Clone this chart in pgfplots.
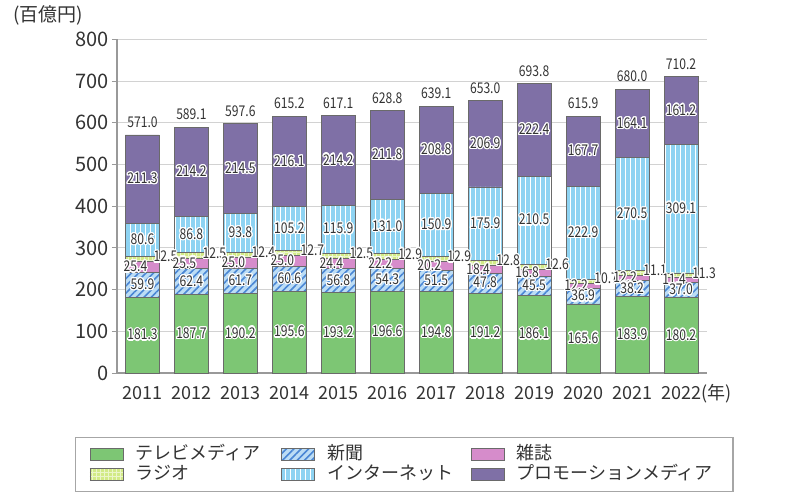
\documentclass[border=0pt]{standalone}
\usepackage{graphicx}
\usepackage{pgfplots}
\pgfplotsset{compat=1.18}
\usepackage{pgfplotstable}
\usepackage{fontspec}
\setmainfont{Noto Sans CJK JP}
\usetikzlibrary{patterns.meta}
\usepackage[copies]{contour}
\contourlength{0.6pt}
\contournumber{16}

\definecolor{tvgreen}{HTML}{7DC674}
\definecolor{newsbg}{HTML}{BCDDF5}
\definecolor{newsline}{HTML}{4A86D4}
\definecolor{magpink}{HTML}{D68CCB}
\definecolor{radioyg}{HTML}{D2EA86}
\definecolor{netblue}{HTML}{8ED3F2}
\definecolor{promo}{HTML}{7F70A6}
\definecolor{edge}{HTML}{6A6A6A}
\definecolor{txt}{HTML}{333333}

\pgfplotstableread{
idx year tv news mag radio net promo total
0 2011 181.3 59.9 25.4 12.5 80.6 211.3 571.0
1 2012 187.7 62.4 25.5 12.5 86.8 214.2 589.1
2 2013 190.2 61.7 25.0 12.4 93.8 214.5 597.6
3 2014 195.6 60.6 25.0 12.7 105.2 216.1 615.2
4 2015 193.2 56.8 24.4 12.5 115.9 214.2 617.1
5 2016 196.6 54.3 22.2 12.9 131.0 211.8 628.8
6 2017 194.8 51.5 20.2 12.9 150.9 208.8 639.1
7 2018 191.2 47.8 18.4 12.8 175.9 206.9 653.0
8 2019 186.1 45.5 16.8 12.6 210.5 222.4 693.8
9 2020 165.6 36.9 12.2 10.7 222.9 167.7 615.9
10 2021 183.9 38.2 12.2 11.1 270.5 164.1 680.0
11 2022 180.2 37.0 11.4 11.3 309.1 161.2 710.2
}\datatable

\newcommand\lbl[1]{\contour{white}{\scalebox{0.82}[1]{#1}}}

\pgfplotsset{
  seglabel/.style={
    point meta=explicit symbolic,
    nodes near coords={\lbl{\pgfplotspointmeta}},
    every node near coord/.append style={anchor=center, inner sep=0pt,
      text=txt, font=\fontsize{7.4}{8}\selectfont},
  },
}

\begin{document}
\begin{tikzpicture}
\begin{axis}[
  at={(0,0)}, anchor=south west, clip=false,
  scale only axis, width=295pt, height=166.8pt,
  ybar stacked, bar width=17pt,
  xmin=-0.52, xmax=11.53, ymin=0, ymax=800,
  xtick={0,...,11},
  xticklabels={2011,2012,2013,2014,2015,2016,2017,2018,2019,2020,2021,2022\rlap{(年)}},
  ytick={0,100,...,800},
  axis x line*=bottom, axis y line*=left,
  axis line style={-, draw=gray!80, line width=0.6pt},
  ymajorgrids, grid style={gray!35, line width=0.5pt},
  xtick style={draw=none},
  ytick style={draw=gray!80, line width=0.5pt},
  major tick length=2.5pt, tick align=outside,
  /pgf/number format/assume math mode=true,
  yticklabel style={font=\fontsize{10}{11}\selectfont, text=txt, inner sep=1.5pt},
  xticklabel style={font=\fontsize{9}{10}\selectfont, text=txt, inner sep=0pt,
    anchor=north, text height=7pt, text depth=1.5pt, yshift=-3.5pt},
  legend image code/.code={\draw[#1] (0pt,-3pt) rectangle (16.5pt,3pt);},
  legend columns=3,
  legend style={at={(-0.0712,-0.192)}, anchor=north west,
    draw=gray!70, line width=0.6pt, inner xsep=7pt, inner ysep=4pt,
    row sep=1pt, column sep=0pt,
    /tikz/every odd column/.style={column sep=6pt},
    nodes={inner sep=0pt, anchor=west, text=txt, font=\fontsize{9}{10}\selectfont,
      text height=7pt, text depth=2pt}},
]
\addplot[fill=tvgreen, draw=edge, line width=0.4pt, seglabel]
  table[x=idx, y=tv, meta=tv]{\datatable};
\addlegendentry{\makebox[73pt][l]{テレビメディア}}
\addplot[fill=newsbg, draw=edge, line width=0.4pt,
  postaction={pattern={Lines[angle=45,distance=2.6pt,line width=0.8pt]}, pattern color=newsline},
  seglabel]
  table[x=idx, y=news, meta=news]{\datatable};
\addlegendentry{\makebox[72pt][l]{新聞}}
\addplot[fill=magpink, draw=edge, line width=0.4pt, seglabel,
  every node near coord/.append style={xshift=-3.5pt}]
  table[x=idx, y=mag, meta=mag]{\datatable};
\addlegendentry{\makebox[101pt][l]{雑誌}}
\addplot[fill=radioyg, draw=edge, line width=0.4pt,
  postaction={pattern={Hatch[distance=2pt,line width=0.3pt]}, pattern color=white!55!radioyg},
  seglabel,
  every node near coord/.append style={xshift=11.5pt, yshift=1pt}]
  table[x=idx, y=radio, meta=radio]{\datatable};
\addlegendentry{\makebox[73pt][l]{ラジオ}}
\addplot[fill=netblue, draw=edge, line width=0.4pt,
  postaction={pattern={Lines[angle=90,distance=2.5pt,line width=0.4pt]}, pattern color=white},
  seglabel]
  table[x=idx, y=net, meta=net]{\datatable};
\addlegendentry{\makebox[72pt][l]{インターネット}}
\addplot[fill=promo, draw=edge, line width=0.4pt, seglabel]
  table[x=idx, y=promo, meta=promo]{\datatable};
\addlegendentry{\makebox[101pt][l]{プロモーションメディア}}
\addplot[draw=none, fill=none, point meta=explicit symbolic,
  nodes near coords={\scalebox{0.82}[1]{\pgfplotspointmeta}},
  every node near coord/.style={anchor=south, inner sep=0pt, yshift=3.5pt,
    text=txt, font=\fontsize{7.4}{8}\selectfont}]
  table[x=idx, y expr=0.01, meta=total]{\datatable};
\node[font=\fontsize{9.5}{10}\selectfont, text=txt] at ([xshift=-34.5pt,yshift=12pt]rel axis cs:0,1) {(百億円)};
\end{axis}
\pgfresetboundingbox
\useasboundingbox (-58.5pt,-63.5pt) rectangle (341.5pt,186.5pt);
\end{tikzpicture}
\end{document}
